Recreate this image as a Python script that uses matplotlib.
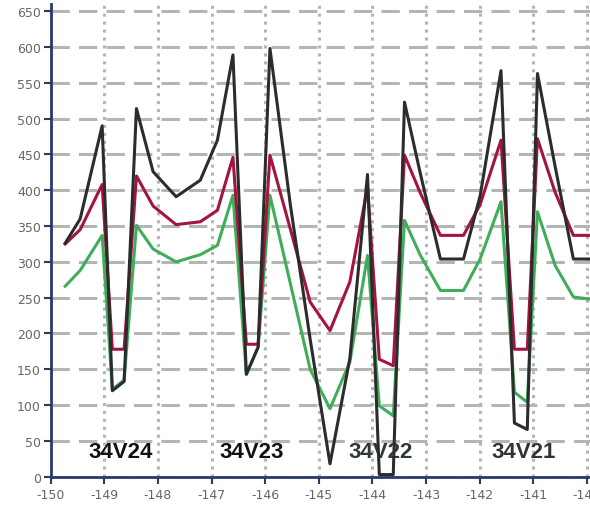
import matplotlib
matplotlib.use("Agg")
import matplotlib.pyplot as plt

# ---- data ----
x_pos = [-149.73, -149.45, -149.04, -148.85, -148.63, -148.40, -148.09, -147.66,
         -147.21, -146.89, -146.60, -146.35, -146.13, -145.91, -145.53, -145.16,
         -144.79, -144.42, -144.09, -143.87, -143.61, -143.40, -143.11, -142.73,
         -142.30, -141.99, -141.60, -141.35, -141.11, -140.92, -140.59, -140.25,
         -139.95]
black_vals = [326, 360, 490, 120, 133, 514, 426, 391,
              414, 470, 589, 143, 181, 598, 380, 192,
              18, 165, 422, 3, 3, 523, 425, 304,
              304, 392, 567, 75, 66, 563, 433, 304,
              304]
red_vals = [325, 345, 408, 178, 178, 420, 378, 352,
            356, 372, 446, 185, 185, 449, 346, 244,
            204, 272, 404, 164, 155, 449, 397, 337,
            337, 380, 470, 178, 178, 472, 397, 337,
            337]
green_vals = [266, 288, 337, 122, 135, 351, 318, 300,
              310, 323, 393, 143, 181, 393, 270, 150,
              95, 160, 309, 99, 85, 358, 310, 260,
              260, 304, 384, 118, 104, 370, 295, 251,
              248]
site_labels = ["34V24", "34V23", "34V22", "34V21"]
site_x = [-148.69, -146.26, -143.85, -141.18]
x_ticks = [-150, -149, -148, -147, -146, -145, -144, -143, -142, -141, -140]
y_ticks = list(range(0, 651, 50))

# ---- figure ----
fig = plt.figure(figsize=(5.9, 5.06), dpi=100)
ax = fig.add_axes([0.0859, 0.0559, 0.9141, 0.9341])

ax.set_xlim(-150, -139.94)
ax.set_ylim(0, 660)

# grid
for yv in y_ticks:
    ax.axhline(yv, color="#b3b6b3", lw=2.2, ls=(0, (6, 3)), zorder=0)
for xv in x_ticks:
    ax.axvline(xv, color="#b3b6b3", lw=2.2, ls=(0, (1, 1.6)), zorder=0)

# site labels (behind lines)
label_colors = ["#111111", "#111111", "#2e3a3a", "#333333"]
for lab, xv, c in zip(site_labels, site_x, label_colors):
    ax.text(xv, 35, lab, ha="center", va="center", fontsize=16,
            fontweight="bold", family="Liberation Sans", color=c, zorder=1)

ax.plot(x_pos, green_vals, color="#3fae5a", lw=2.2, zorder=2)
ax.plot(x_pos, red_vals, color="#a3143e", lw=2.2, zorder=3)
ax.plot(x_pos, black_vals, color="#2c2c2c", lw=2.2, zorder=4)

# axes styling
for s in ["top", "right"]:
    ax.spines[s].set_visible(False)
for s in ["left", "bottom"]:
    ax.spines[s].set_color("#2b3a6e")
    ax.spines[s].set_linewidth(2.0)

ax.set_xticks(x_ticks)
ax.set_xticklabels([str(v) for v in x_ticks])
ax.set_yticks(y_ticks)
ax.set_yticklabels([str(v) for v in y_ticks])
ax.tick_params(axis="both", colors="#2b3a6e", length=5, width=1.5,
               labelcolor="#666666", labelsize=9)
ax.tick_params(axis="y", pad=2)
ax.tick_params(axis="x", pad=3)

fig.savefig("out.png", dpi=100)
